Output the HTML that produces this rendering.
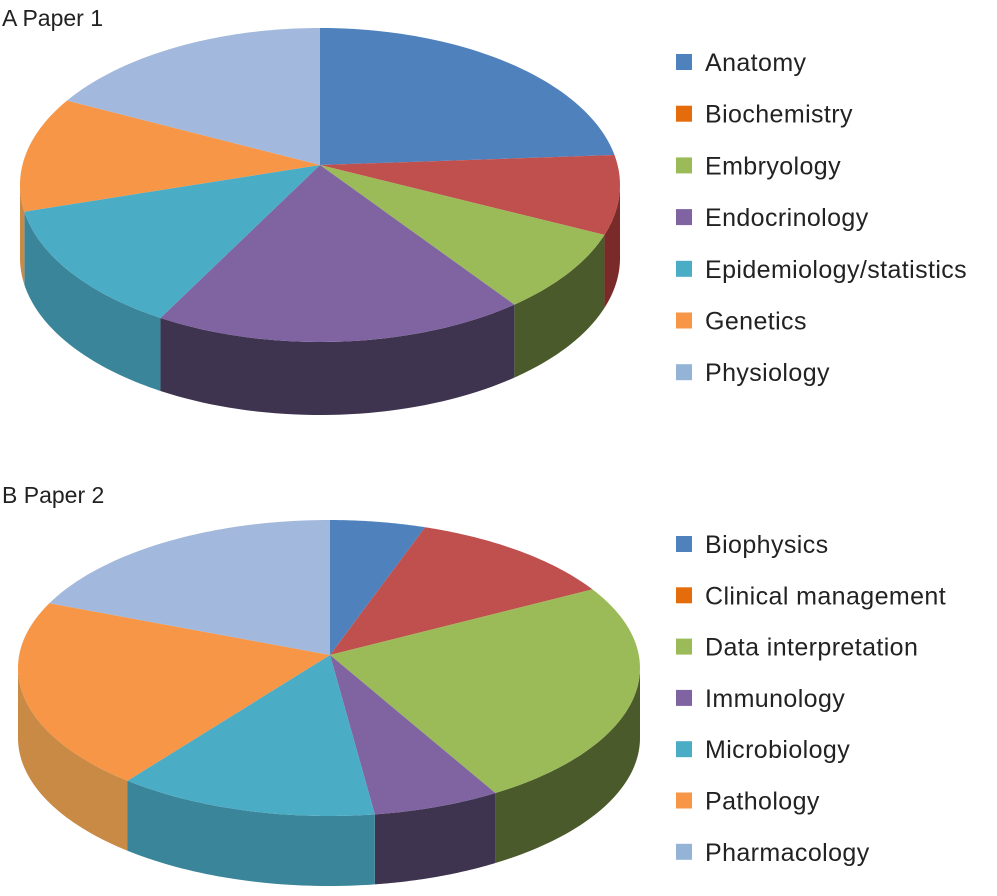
<!DOCTYPE html><html><head><style>
body{margin:0;background:#fff;width:997px;height:896px;overflow:hidden;font-family:"Liberation Sans",sans-serif;}
svg{position:absolute;left:0;top:0}
</style></head><body>
<svg id="s" width="997" height="896" xmlns="http://www.w3.org/2000/svg">
<g font-family="Liberation Sans, sans-serif" font-size="23" fill="#222">
<text x="2" y="26">A Paper 1</text>
<text x="2" y="503">B Paper 2</text>
</g>
</svg>
<script>
const S=document.getElementById('s'),NS='http://www.w3.org/2000/svg';
function el(t,a){const e=document.createElementNS(NS,t);for(const k in a)e.setAttribute(k,a[k]);S.appendChild(e);return e;}
function pie(cx,cy,rx,ry,px,py,d,pts,cols,side){
 let ts=pts.map(p=>Math.atan2((p[1]-cy)/ry,(p[0]-cx)/rx));
 const P=t=>[cx+rx*Math.cos(t),cy+ry*Math.sin(t)];
 for(let i=0;i<ts.length;i++){
  let a=ts[i],b=ts[(i+1)%ts.length];while(b<=a)b+=2*Math.PI;
  for(const off of [0,2*Math.PI]){
   let s=Math.max(a,off),e=Math.min(b,off+Math.PI);
   if(e>s){let top=[],bot=[];for(let k=0;k<=40;k++){let t=s+(e-s)*k/40;let q=P(t);top.push(q);bot.push([q[0],q[1]+d]);}
    let all=top.concat(bot.reverse());
    el('polygon',{points:all.map(q=>q.join(',')).join(' '),fill:side[i]});}
  }
 }
 for(let i=0;i<ts.length;i++){
  let a=ts[i],b=ts[(i+1)%ts.length];while(b<=a)b+=2*Math.PI;
  let pp=[[px,py]];for(let k=0;k<=60;k++)pp.push(P(a+(b-a)*k/60));
  el('polygon',{points:pp.map(q=>q.join(',')).join(' '),fill:cols[i]});
 }
}
const C=['#4f81bd','#c0504d','#9bbb59','#8064a2','#4bacc6','#f79646','#a2b8dc'];
const D=['#3a5f8c','#7a2a28','#4a5a2a','#3f3450','#3a8599','#c98a45','#7d8fb0'];
pie(320,185,300,157,320,165,73,[[320,28],[615,155],[605,235],[515,305],[158,320],[20,212],[65,100]],C,D);
pie(329,668,311,148,330,655,70,[[330,520],[428,523],[597,588],[498,795],[375,815],[127,781],[48,603]],C,D);
const LA=['Anatomy','Biochemistry','Embryology','Endocrinology','Epidemiology/statistics','Genetics','Physiology'];
const LB=['Biophysics','Clinical management','Data interpretation','Immunology','Microbiology','Pathology','Pharmacology'];
const CL=['#4f81bd','#e46c0a','#9bbb59','#8064a2','#4bacc6','#f79646','#95b3d7'];
function leg(L,y0,dy){L.forEach((t,i)=>{let y=y0+dy*i;el('rect',{x:676,y:y-8,width:16,height:16,fill:CL[i]});
 let e=el('text',{x:705,y:y+9,'font-size':25,'letter-spacing':0.4,fill:'#222','font-family':'Liberation Sans, sans-serif'});e.textContent=t;});}
leg(LA,62,51.7);leg(LB,544,51.3);
</script>
</body></html>
